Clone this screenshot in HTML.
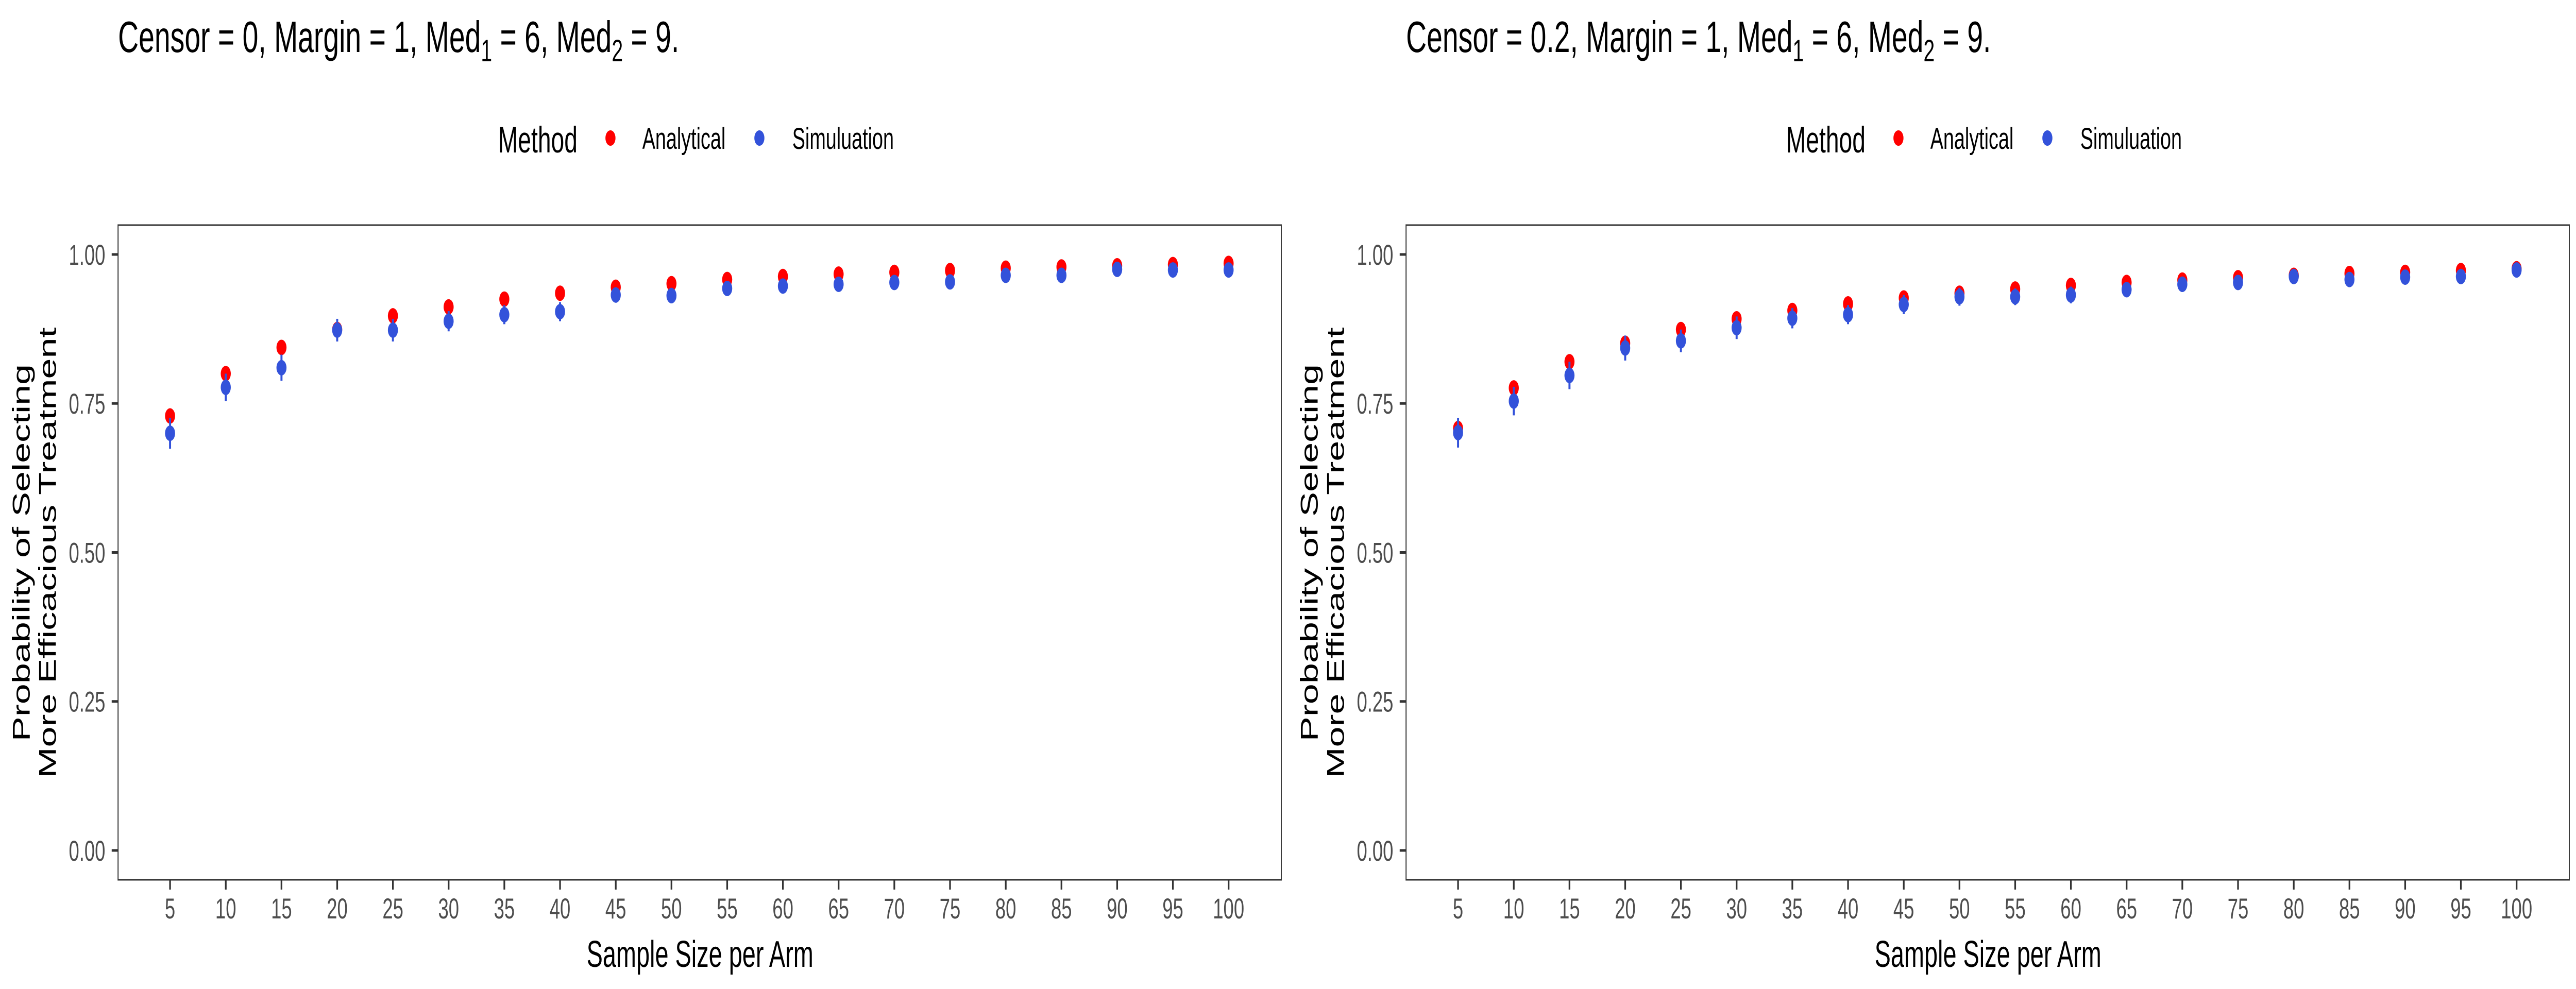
<!DOCTYPE html>
<html><head><meta charset="utf-8"><style>
html,body{margin:0;padding:0;background:#fff;overflow:hidden;width:100%;height:100%;}
svg{display:block;font-family:"Liberation Sans",Arial,sans-serif;width:100vw;height:100vh;}
</style></head><body>
<svg id="chart" viewBox="0 0 7680 1920" preserveAspectRatio="none" xmlns="http://www.w3.org/2000/svg"></svg>
<script>
const categories = [5,10,15,20,25,30,35,40,45,50,55,60,65,70,75,80,85,90,95,100];
const yTicks = [0, 0.25, 0.5, 0.75, 1];
const yTickLabels = ["0.00","0.25","0.50","0.75","1.00"];
const panelTitles = ["Censor = 0, Margin = 1, Med", "Censor = 0.2, Margin = 1, Med"];
const analytical0 = [0.729,0.800,0.844,0.874,0.897,0.912,0.925,0.935,0.945,0.951,0.958,0.963,0.967,0.970,0.973,0.977,0.979,0.981,0.983,0.985];
const simulation0 = [0.700,0.777,0.810,0.873,0.873,0.888,0.899,0.904,0.932,0.931,0.943,0.947,0.950,0.953,0.954,0.965,0.965,0.975,0.974,0.974];
const simErr0 = [0.026,0.023,0.022,0.019,0.019,0.017,0.016,0.016,0.013,0.013,0.012,0.012,0.011,0.011,0.011,0.010,0.010,0.009,0.009,0.009];
const analytical1 = [0.708,0.776,0.820,0.851,0.874,0.892,0.906,0.917,0.927,0.935,0.942,0.948,0.953,0.957,0.961,0.965,0.968,0.970,0.973,0.976];
const simulation1 = [0.701,0.754,0.797,0.843,0.855,0.877,0.893,0.899,0.916,0.929,0.929,0.932,0.941,0.950,0.953,0.963,0.958,0.962,0.963,0.974];
const simErr1 = [0.025,0.024,0.023,0.021,0.019,0.019,0.017,0.016,0.016,0.015,0.014,0.014,0.013,0.013,0.012,0.012,0.012,0.011,0.011,0.010];

const NS = "http://www.w3.org/2000/svg";
const svg = document.getElementById("chart");
function mk(tag, attrs, parent){
  const e = document.createElementNS(NS, tag);
  for (const k in attrs) e.setAttribute(k, attrs[k]);
  (parent||svg).appendChild(e);
  return e;
}
const RED = "#FF0000", BLUE = "#3352DA";
const panels = [
  {off:0, a:analytical0, s:simulation0, e:simErr0, title:panelTitles[0]},
  {off:3840, a:analytical1, s:simulation1, e:simErr1, title:panelTitles[1]}
];
panels.forEach((p, pi) => {
  const g = mk("g", {transform:`translate(${p.off},0)`});
  
  
  const L = 352, R = 3820, T = 437, B = 1708;
  const xS = v => 507 + (categories.indexOf(v)) * 166.1;
  const yS = v => 1651 - v * 1157;

  const t = mk("text", {x:L, y:101, "font-size":85, fill:"#000"}, g);
  
  
  t.innerHTML = p.title + '<tspan font-size="60" dy="18">1</tspan><tspan dy="-18"> = 6, Med</tspan><tspan font-size="60" dy="18">2</tspan><tspan dy="-18"> = 9.</tspan>';

  const lg = mk("g", {}, g);
  
  
  const lt = mk("text", {x:1485, y:296, "font-size":71, fill:"#000"}, lg);
  
  
  lt.textContent = "Method";
  const e1 = mk("circle", {cx:1820, cy:268, r:15, fill:RED}, lg);
  
  
  const l1 = mk("text", {x:1915, y:289, "font-size":58, fill:"#000"}, lg);
  
  
  l1.textContent = "Analytical";
  const e2 = mk("circle", {cx:2264, cy:268, r:15, fill:BLUE}, lg);
  
  
  const l2 = mk("text", {x:2362, y:289, "font-size":58, fill:"#000"}, lg);
  
  
  l2.textContent = "Simuluation";

  const pb = mk("rect", {x:L, y:T, width:R-L, height:B-T, fill:"none", stroke:"#333", "stroke-width":3}, g);
  
  

  yTicks.forEach((v,i) => {
    const tk = mk("line", {x1:L-19, x2:L, y1:yS(v), y2:yS(v), stroke:"#333", "stroke-width":5}, g);
    
    
    const tl = mk("text", {x:314, y:yS(v)+20, "font-size":56, fill:"#4D4D4D", "text-anchor":"end"}, g);
    
    
    tl.textContent = yTickLabels[i];
  });
  categories.forEach(c => {
    const tk = mk("line", {x1:xS(c), x2:xS(c), y1:B, y2:B+19, stroke:"#333", "stroke-width":5}, g);
    
    
    const tl = mk("text", {x:xS(c), y:1783, "font-size":56, fill:"#4D4D4D", "text-anchor":"middle"}, g);
    
    
    tl.textContent = String(c);
  });
  const xt = mk("text", {x:2087, y:1877, "font-size":72, fill:"#000", "text-anchor":"middle"}, g);
  
  
  xt.textContent = "Sample Size per Arm";
  const yt = mk("text", {transform:"translate(88,1073) rotate(-90)", "font-size":72, fill:"#000", "text-anchor":"middle"}, g);
  
  
  yt.innerHTML = '<tspan x="0" y="0">Probability of Selecting</tspan><tspan x="0" y="79">More Efficacious Treatment</tspan>';

  categories.forEach((c,i) => {
    const ca = mk("circle", {cx:xS(c), cy:yS(p.a[i]), r:15, fill:RED}, g);
    
    
  });
  categories.forEach((c,i) => {
    const eb = mk("line", {x1:xS(c), x2:xS(c), y1:yS(p.s[i]-p.e[i]), y2:yS(p.s[i]+p.e[i]), stroke:BLUE, "stroke-width":6}, g);
    
    
    const cs = mk("circle", {cx:xS(c), cy:yS(p.s[i]), r:15, fill:BLUE}, g);
    
    
  });
});
</script>
</body></html>
